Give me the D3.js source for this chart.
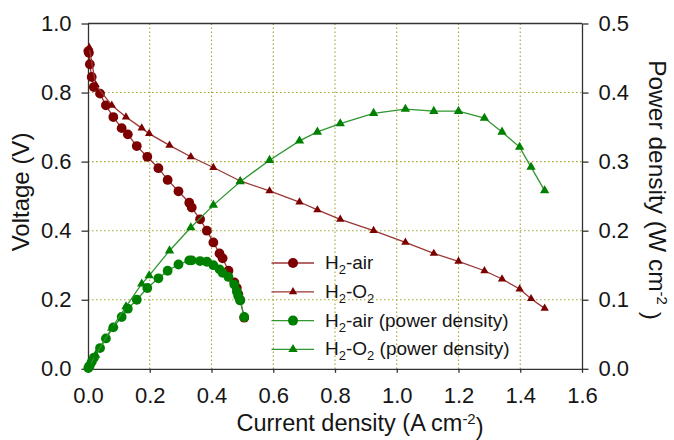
<!DOCTYPE html>
<html><head><meta charset="utf-8">
<script src="https://cdn.jsdelivr.net/npm/d3@7"></script>
<style>
body{margin:0;background:#fff}
text{font-family:"Liberation Sans",Arial,sans-serif;fill:#151515}
</style>
</head><body>
<svg id="chart" width="674" height="440"></svg>
<script>
// ---- data ----
const airCurrent = [0.001, 0.003, 0.006, 0.012, 0.019, 0.039, 0.058, 0.082, 0.109, 0.129, 0.158, 0.192, 0.228, 0.258, 0.293, 0.328, 0.336, 0.363, 0.385, 0.406, 0.426, 0.436, 0.455, 0.474, 0.482, 0.487, 0.493, 0.506];
const airVoltage = [0.92, 0.915, 0.882, 0.845, 0.816, 0.797, 0.763, 0.729, 0.697, 0.679, 0.645, 0.614, 0.581, 0.547, 0.514, 0.481, 0.467, 0.433, 0.40, 0.366, 0.334, 0.320, 0.284, 0.250, 0.234, 0.216, 0.199, 0.148];
const airPower   = [0.001, 0.003, 0.005, 0.010, 0.016, 0.030, 0.044, 0.060, 0.075, 0.087, 0.100, 0.117, 0.131, 0.142, 0.151, 0.157, 0.157, 0.156, 0.155, 0.150, 0.144, 0.139, 0.133, 0.122, 0.112, 0.105, 0.099, 0.075];

const o2Current = [0.004, 0.025, 0.077, 0.123, 0.174, 0.198, 0.264, 0.333, 0.406, 0.493, 0.588, 0.685, 0.743, 0.817, 0.925, 1.028, 1.120, 1.200, 1.284, 1.341, 1.398, 1.435, 1.479];
const o2Voltage = [0.93, 0.822, 0.763, 0.729, 0.697, 0.681, 0.647, 0.614, 0.583, 0.544, 0.515, 0.483, 0.460, 0.433, 0.400, 0.366, 0.334, 0.311, 0.284, 0.260, 0.231, 0.203, 0.175];
const o2Power   = [0.004, 0.020, 0.059, 0.090, 0.123, 0.135, 0.171, 0.2045, 0.237, 0.271, 0.302, 0.330, 0.343, 0.355, 0.370, 0.376, 0.373, 0.373, 0.363, 0.343, 0.321, 0.292, 0.258];

const xTicks = [0, 0.2, 0.4, 0.6, 0.8, 1.0, 1.2, 1.4, 1.6];
const vTicks = [0, 0.2, 0.4, 0.6, 0.8, 1.0];
const pTicks = [0, 0.1, 0.2, 0.3, 0.4, 0.5];

const legendLabels = [["H", "2", "-air"], ["H", "2", "-O", "2"], ["H", "2", "-air (power density)"], ["H", "2", "-O", "2", " (power density)"]];

// ---- layout ----
const svg = d3.select("#chart");
const L = 88, R = 582, T = 23.5, B = 368.8;
const x = d3.scaleLinear().domain([0, 1.6]).range([L, R]);
const yV = d3.scaleLinear().domain([0, 1]).range([B, T]);
const yP = d3.scaleLinear().domain([0, 0.5]).range([B, T]);

const RED = "#7d0000", REDLINE = "#9a3535", GREEN = "#008000", GREENLINE = "#2f962f";
const GRID = "#a3a32c";

// grid
const g = svg.append("g");
g.selectAll("line.vx").data(xTicks.slice(1, -1)).join("line")
  .attr("x1", d => x(d)).attr("x2", d => x(d)).attr("y1", T).attr("y2", B)
  .attr("stroke", GRID).attr("stroke-width", 1.1).attr("stroke-dasharray", "1.5,2.5");
g.selectAll("line.hy").data(vTicks.slice(1, -1)).join("line")
  .attr("x1", L).attr("x2", R).attr("y1", d => yV(d)).attr("y2", d => yV(d))
  .attr("stroke", GRID).attr("stroke-width", 1.1).attr("stroke-dasharray", "1.5,2.5");

// frame top
svg.append("line").attr("x1", L).attr("x2", R).attr("y1", T).attr("y2", T)
  .attr("stroke", "#333").attr("stroke-width", 1.3);

// axes
function styleAxis(sel) {
  sel.selectAll(".domain").attr("stroke", "#333").attr("stroke-width", 1.3);
  sel.selectAll(".tick line").attr("stroke", "#333").attr("stroke-width", 1.3);
  sel.selectAll(".tick text").style("font-size", "22px").attr("fill", "#151515")
    .style("font-family", "'Liberation Sans', Arial, sans-serif");
}
const fmt = d3.format(".1f");
svg.append("g").attr("transform", `translate(0,${B})`)
  .call(d3.axisBottom(x).tickValues(xTicks).tickFormat(fmt).tickSize(4).tickSizeOuter(0).tickPadding(15))
  .call(styleAxis);
svg.append("g").attr("transform", `translate(${L},0)`)
  .call(d3.axisLeft(yV).tickValues(vTicks).tickFormat(fmt).tickSize(6.5).tickSizeOuter(0).tickPadding(10))
  .call(styleAxis);
svg.append("g").attr("transform", `translate(${R},0)`)
  .call(d3.axisRight(yP).tickValues(pTicks).tickFormat(fmt).tickSize(6.5).tickSizeOuter(0).tickPadding(10))
  .call(styleAxis);

// titles
const xt = svg.append("text").attr("x", 360).attr("y", 431).attr("text-anchor", "middle").style("font-size", "23.5px");
xt.append("tspan").text("Current density (A cm");
xt.append("tspan").attr("dy", "-0.5em").style("font-size", "15px").text("-2");
xt.append("tspan").attr("dy", "0.5em").text(")");

svg.append("text").attr("transform", "translate(29,192) rotate(-90)").attr("text-anchor", "middle")
  .style("font-size", "24px").text("Voltage (V)");

const yt = svg.append("text").attr("transform", "translate(649,190) rotate(90)").attr("text-anchor", "middle").style("font-size", "24.5px");
yt.append("tspan").text("Power density (W cm");
yt.append("tspan").attr("dy", "-0.55em").style("font-size", "15px").text("-2");
yt.append("tspan").attr("dy", "0.55em").text(" )");

// series
const series = [
  {cur: airCurrent, val: airVoltage, y: yV, color: RED, line: REDLINE, shape: "circle"},
  {cur: o2Current, val: o2Voltage, y: yV, color: RED, line: REDLINE, shape: "tri", size: 30},
  {cur: airCurrent, val: airPower, y: yP, color: GREEN, line: GREENLINE, shape: "circle"},
  {cur: o2Current, val: o2Power, y: yP, color: GREEN, line: GREENLINE, shape: "tri", size: 38}
];
series.forEach(s => {
  const pts = s.cur.map((c, i) => [c, s.val[i]]);
  svg.append("path").datum(pts)
    .attr("d", d3.line().x(d => x(d[0])).y(d => s.y(d[1])))
    .attr("fill", "none").attr("stroke", s.line).attr("stroke-width", 1.3);
  if (s.shape === "circle") {
    svg.append("g").selectAll("circle").data(pts).join("circle")
      .attr("cx", d => x(d[0])).attr("cy", d => s.y(d[1])).attr("r", 4.9).attr("fill", s.color);
  } else {
    const sym = d3.symbol().type(d3.symbolTriangle).size(s.size);
    svg.append("g").selectAll("path").data(pts).join("path")
      .attr("d", sym).attr("transform", d => `translate(${x(d[0])},${s.y(d[1])})`).attr("fill", s.color);
  }
});

// legend
const legY0 = 263, legDY = 28.8;
series.forEach((s, i) => {
  const yy = legY0 + i * legDY;
  svg.append("line").attr("x1", 271.5).attr("x2", 314).attr("y1", yy).attr("y2", yy)
    .attr("stroke", s.line).attr("stroke-width", 1.3);
  if (s.shape === "circle") {
    svg.append("circle").attr("cx", 293).attr("cy", yy).attr("r", 5).attr("fill", s.color);
  } else {
    svg.append("path").attr("d", d3.symbol().type(d3.symbolTriangle).size(s.size)())
      .attr("transform", `translate(293,${yy})`).attr("fill", s.color);
  }
  const t = svg.append("text").attr("x", 325).attr("y", yy + 6).style("font-size", "19px");
  const parts = legendLabels[i];
  parts.forEach((p, k) => {
    const isSub = /^\d$/.test(p);
    const prevSub = k > 0 && /^\d$/.test(parts[k - 1]);
    const ts = t.append("tspan").text(p);
    if (isSub) ts.attr("dy", 5).style("font-size", "13px");
    else if (prevSub) ts.attr("dy", -5);
  });
});
</script>
</body></html>
